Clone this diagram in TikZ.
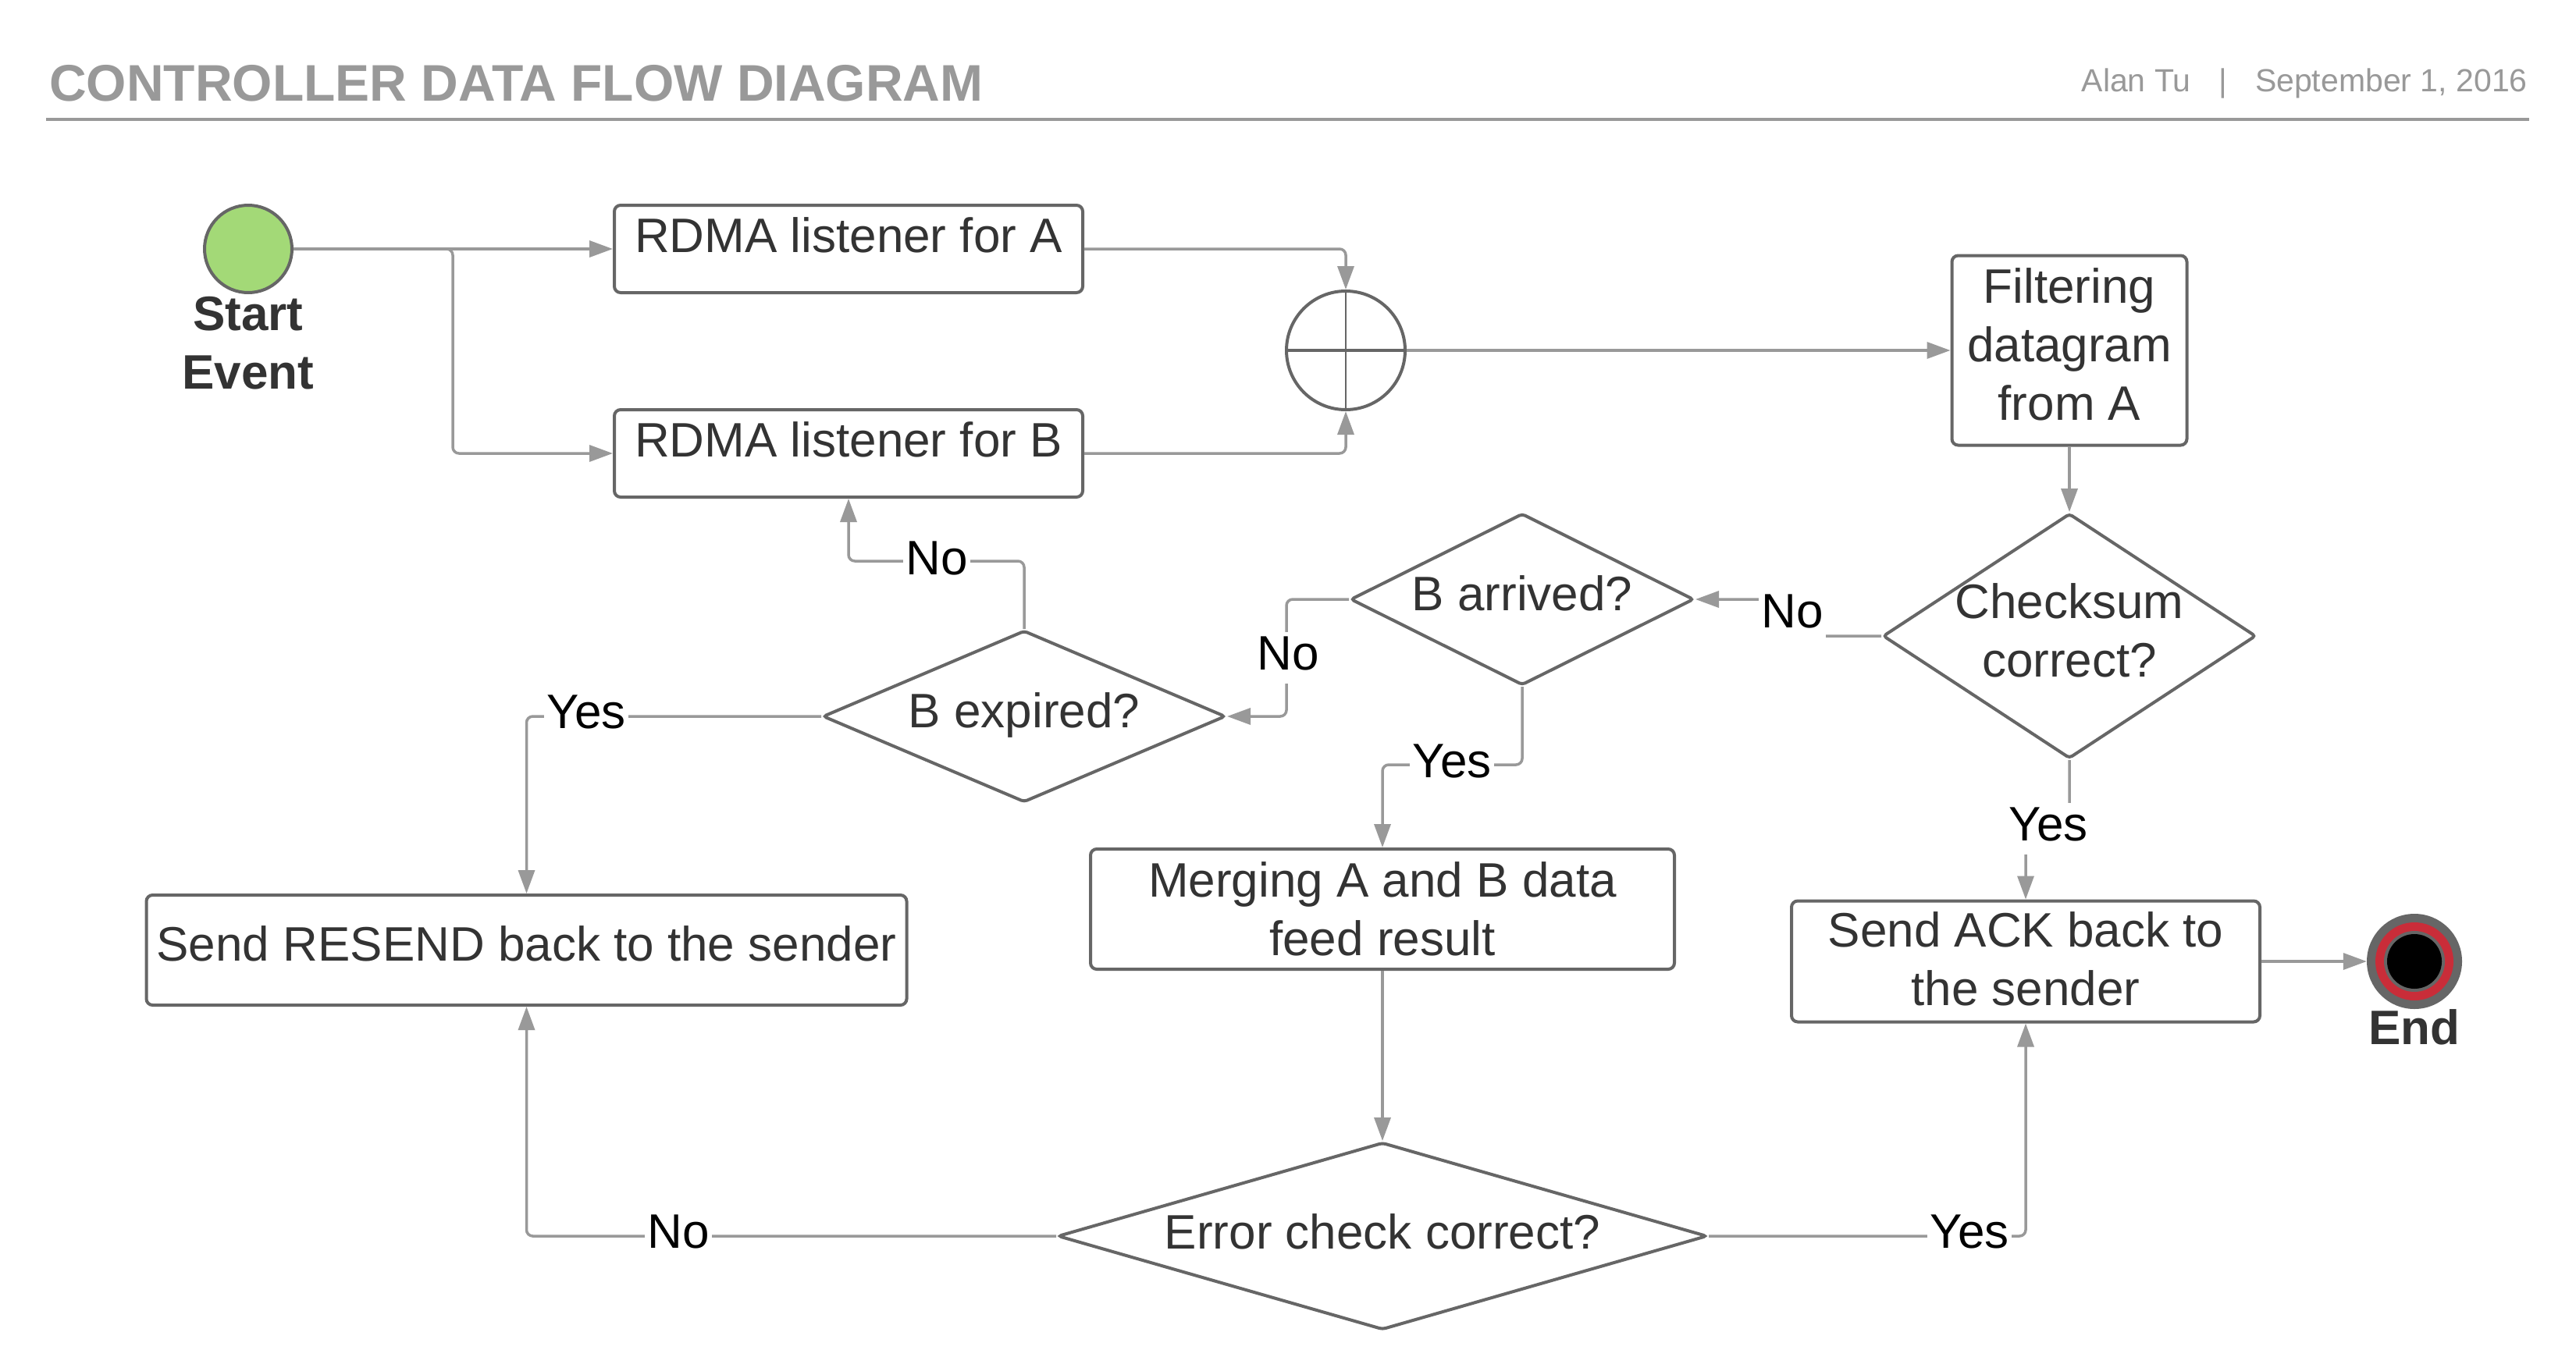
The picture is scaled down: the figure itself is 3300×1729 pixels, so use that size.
\documentclass[tikz,border=0pt]{standalone}
\usepackage{fontspec}
\setmainfont{Liberation Sans}
\usetikzlibrary{shapes.geometric,arrows.meta}
\definecolor{bordc}{HTML}{666666}
\definecolor{connc}{HTML}{999999}
\definecolor{txtc}{HTML}{333333}
\definecolor{hdrc}{HTML}{999999}
\definecolor{startg}{HTML}{A3D977}
\definecolor{endred}{HTML}{C92D39}
\begin{document}
\begin{tikzpicture}[x=1pt,y=-1pt,
  txt/.style={font=\fontsize{62}{75}\selectfont, text=txtc},
  btxt/.style={font=\bfseries\fontsize{62}{75}\selectfont, text=txtc},
  box/.style={draw=bordc, line width=4pt, rounded corners=8pt, fill=white, txt, align=center, inner sep=0pt},
  dia/.style={diamond, draw=bordc, line width=4pt, fill=white, inner sep=0pt, rounded corners=4pt},
  conn/.style={draw=connc, line width=3.5pt, rounded corners=8pt, -{Triangle[length=30pt,width=21pt]}},
  lbl/.style={fill=white, font=\fontsize{62}{75}\selectfont, text=black, inner sep=3pt, text height=45pt, text depth=15pt},
]
\fill[white] (0,0) rectangle (3300,1729);
\useasboundingbox (0,0) rectangle (3300,1729);

% header
\node[anchor=base west, font=\bfseries\fontsize{66}{79}\selectfont, text=hdrc, inner sep=0pt] (title) at (63,129) {CONTROLLER DATA FLOW DIAGRAM};
\node[anchor=base east, font=\fontsize{41}{49}\selectfont, text=hdrc, inner sep=0pt] (meta) at (3238,117) {Alan Tu\hspace{36pt}|\hspace{36pt}September 1, 2016};
\coordinate (hl) at (59,153);
\coordinate (hr) at (3240,153);
\draw[hdrc, line width=4pt] (hl) -- (hr);

% nodes
\node[circle, draw=bordc, line width=4pt, fill=startg, minimum size=112pt, inner sep=0pt] (start) at (318,319) {};
\node[btxt, align=center, inner sep=0pt] (startlbl) at (318,440) {Start\\Event};

\node[box, minimum width=600pt, minimum height=112pt, text height=44pt, text depth=36pt] (boxA) at (1087,319) {RDMA listener for A};
\node[box, minimum width=600pt, minimum height=112pt, text height=44pt, text depth=36pt] (boxB) at (1087,581) {RDMA listener for B};

\node[circle, draw=bordc, line width=4pt, fill=white, minimum size=152pt, inner sep=0pt] (merge) at (1724,449) {};

\node[box, minimum width=301pt, minimum height=243pt, label={[txt,align=center,yshift=8pt]center:{Filtering\\datagram\\from A}}] (filt) at (2651,449) {};

\node[dia, minimum width=478pt, minimum height=314pt, label={[txt,align=center,yshift=7pt]center:{Checksum\\correct?}}] (chk) at (2651,815) {};
\node[dia, minimum width=440pt, minimum height=220pt, label={[txt,yshift=8pt]center:B arrived?}] (arr) at (1950,768) {};
\node[dia, minimum width=516pt, minimum height=220pt, label={[txt,yshift=2pt]center:B expired?}] (exp) at (1312,918) {};

\node[box, minimum width=974pt, minimum height=141pt, label={[txt,yshift=8pt]center:Send RESEND back to the sender}] (resend) at (674.5,1217.5) {};
\node[box, minimum width=748pt, minimum height=154pt] (merg) at (1771,1165) {Merging A and B data\\feed result};
\node[dia, minimum width=832pt, minimum height=240pt, label={[txt,yshift=6pt]center:Error check correct?}] (err) at (1771,1584) {};
\node[box, minimum width=600pt, minimum height=155pt, label={[txt,align=center,yshift=3pt]center:{Send ACK back to\\the sender}}] (ack) at (2595,1232) {};

\node[circle, fill=bordc, minimum size=122pt, inner sep=0pt] (endev) at (3093,1232) {};
\fill[endred] (endev.center) circle[radius=50];
\fill[bordc] (endev.center) circle[radius=39];
\fill[black] (endev.center) circle[radius=35];
\node[btxt, inner sep=0pt] (endlbl) at (3093,1316) {End};

% cross in merge gateway
\draw[bordc, line width=2.5pt] (merge.north) -- (merge.south);
\draw[bordc, line width=4pt] (merge.west) -- (merge.east);

% connectors
\draw[conn] (start.east) -- (boxA.west);
\draw[conn] (start.east) -- ++(204,0) |- (boxB.west);
\draw[conn] (boxA.east) -| (merge.north);
\draw[conn] (boxB.east) -| (merge.south);
\draw[conn] (merge.east) -- (filt.west);
\draw[conn] (filt.south) -- (chk.north);
\draw[conn] (chk.west) -- ++(-114,0) |- (arr.east);
\draw[conn] (arr.west) -- ++(-80,0) |- (exp.east);
\draw[conn] (exp.north) -- ++(0,-87) -| (boxB.south);
\draw[conn] (exp.west) -| (resend.north);
\draw[conn] (arr.south) -- ++(0,100) -| (merg.north);
\draw[conn] (merg.south) -- (err.north);
\draw[conn] (err.west) -| (resend.south);
\draw[conn] (err.east) -| (ack.south);
\draw[conn] (chk.south) -- ++(0,94) -| (ack.north);
\draw[conn] (ack.east) -- (endev.west);

% connector labels
\node[lbl] (lno1) at (1200,721) {No};
\node[lbl] (lno2) at (1650,843) {No};
\node[lbl] (lno3) at (2296,789) {No};
\node[lbl] (lyes1) at (751,918) {Yes};
\node[lbl] (lyes2) at (1860,981) {Yes};
\node[lbl] (lyes3) at (2624,1062) {Yes};
\node[lbl] (lno4) at (869,1584) {No};
\node[lbl] (lyes4) at (2523,1584) {Yes};
\end{tikzpicture}
\end{document}
